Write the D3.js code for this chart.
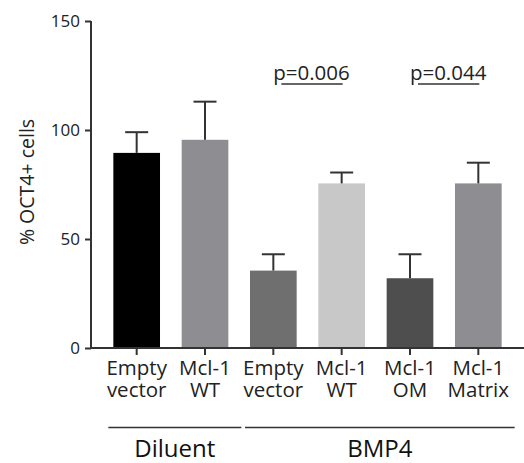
<!DOCTYPE html>
<html>
<head>
  <meta charset="utf-8">
  <title>OCT4 bars</title>
  <style>
    body { margin: 0; background: #fff; }
    svg { display: block; font-family: "Open Sans", sans-serif; }
    .axis path, .axis line { stroke: #333; stroke-width: 2; }
  </style>
</head>
<body>
  <svg id="chart" width="524" height="463"></svg>
  <script src="https://cdn.jsdelivr.net/npm/d3@7"></script>
  <script>
  // values
  var labels = [["Empty", "vector"], ["Mcl-1", "WT"], ["Empty", "vector"],
                ["Mcl-1", "WT"], ["Mcl-1", "OM"], ["Mcl-1", "Matrix"]];
  var means = [89.5, 95.5, 35.5, 75.5, 32, 75.5];
  var errTops = [99, 113, 43, 80.5, 43, 85];
  var fills = ["#000000", "#8e8e92", "#6f6f6f", "#c8c8c8", "#4e4e4e", "#8e8e92"];
  var yTicks = [0, 50, 100, 150];
  var groups = [{name: "Diluent", from: 0, to: 1}, {name: "BMP4", from: 2, to: 5}];
  var pvals = [{text: "p=0.006", a: 2, b: 3}, {text: "p=0.044", a: 4, b: 5}];

  var svg = d3.select("#chart");
  var x0 = 91, yBase = 348;

  var x = d3.scaleBand().domain(d3.range(means.length))
      .range([x0, 524]).paddingInner(0.317).paddingOuter(0.327);
  var y = d3.scaleLinear().domain([0, 150]).range([yBase, 21]);
  var cx = function(i) { return x(i) + x.bandwidth()/2; };

  // bars
  svg.selectAll("rect.bar").data(means).enter().append("rect")
      .attr("class", "bar")
      .attr("x", function(d, i) { return x(i); })
      .attr("y", function(d) { return y(d); })
      .attr("width", x.bandwidth())
      .attr("height", function(d) { return yBase - y(d); })
      .attr("fill", function(d, i) { return fills[i]; });

  // error bars (upper only)
  var eg = svg.selectAll("g.err").data(means).enter().append("g")
      .attr("class", "err")
      .attr("transform", function(d, i) { return "translate(" + cx(i) + ",0)"; });
  eg.append("line")
      .attr("y1", function(d) { return y(d); })
      .attr("y2", function(d, i) { return y(errTops[i]); })
      .attr("stroke", "#333").attr("stroke-width", 2);
  eg.append("line")
      .attr("x1", -11.5).attr("x2", 11.5)
      .attr("y1", function(d, i) { return y(errTops[i]); })
      .attr("y2", function(d, i) { return y(errTops[i]); })
      .attr("stroke", "#333").attr("stroke-width", 2);

  // y axis
  var yAxis = svg.append("g").attr("class", "axis")
      .attr("transform", "translate(" + x0 + ",0)")
      .call(d3.axisLeft(y).tickValues(yTicks).tickSize(6).tickSizeOuter(0));
  yAxis.attr("font-family", null).attr("font-size", null);
  yAxis.selectAll("text").attr("dx", "-2")
      .style("font-size", "17px").style("fill", "#222");
  yAxis.select(".domain").attr("d", "M0," + y(150) + "V" + (yBase + 1));

  // x axis
  var xAxis = svg.append("g").attr("class", "axis")
      .attr("transform", "translate(0," + yBase + ")")
      .call(d3.axisBottom(x).tickSize(7).tickSizeOuter(0).tickFormat(""));
  xAxis.select(".domain").attr("d", "M" + (x0 - 1) + ",0H524");

  // two-line category labels, one text per line
  [0, 1].forEach(function(k) {
    svg.append("g").selectAll("text").data(labels).enter().append("text")
        .attr("x", function(d, i) { return cx(i); })
        .attr("y", 375 + 22*k)
        .attr("text-anchor", "middle")
        .attr("font-size", 20.5)
        .attr("fill", "#222")
        .text(function(d) { return d[k]; });
  });

  // y label
  svg.append("text")
      .attr("transform", "translate(34,182) rotate(-90)")
      .attr("text-anchor", "middle")
      .attr("font-size", 19.5)
      .attr("fill", "#222")
      .text("% OCT4+ cells");

  // group lines
  var gg = svg.selectAll("g.grp").data(groups).enter().append("g").attr("class", "grp");
  gg.append("line")
      .attr("x1", function(d) { return x(d.from) - 5; })
      .attr("x2", function(d) { return x(d.to) + x.bandwidth() + 13; })
      .attr("y1", 427.5).attr("y2", 427.5)
      .attr("stroke", "#333").attr("stroke-width", 1.5);
  gg.append("text")
      .attr("x", function(d) { return (x(d.from) + x(d.to) + x.bandwidth())/2 + 4; })
      .attr("y", 457)
      .attr("text-anchor", "middle")
      .attr("font-size", 24)
      .attr("fill", "#111")
      .text(function(d) { return d.name; });

  // p values
  var pg = svg.selectAll("g.pv").data(pvals).enter().append("g").attr("class", "pv");
  pg.append("text")
      .attr("x", function(d) { return (cx(d.a) + cx(d.b))/2 + 4; })
      .attr("y", 80)
      .attr("text-anchor", "middle")
      .attr("font-size", 20.5)
      .attr("fill", "#222")
      .text(function(d) { return d.text; });
  pg.append("line")
      .attr("x1", function(d) { return cx(d.a) + 8; })
      .attr("x2", function(d) { return cx(d.b) + 1; })
      .attr("y1", 84).attr("y2", 84)
      .attr("stroke", "#333").attr("stroke-width", 1.5);
  </script>
</body>
</html>
